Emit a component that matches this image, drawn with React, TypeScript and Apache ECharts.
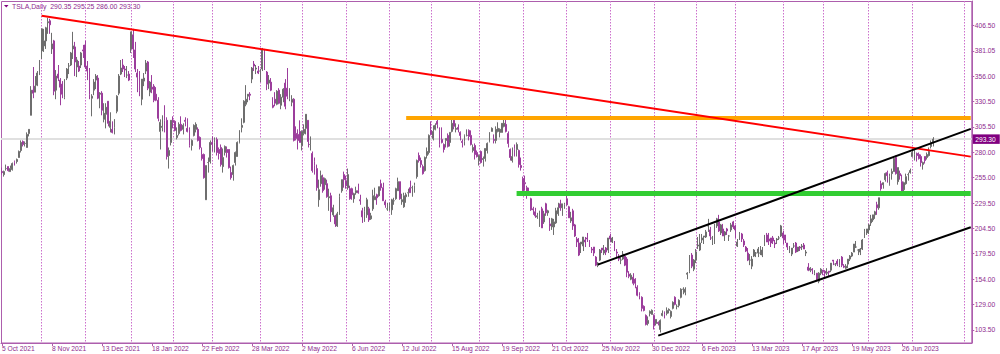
import React, { useEffect, useRef } from "react";
import * as echarts from "echarts";

// ---------- data ----------
const FIRST_DAY = "2021-10-05";
const MARKET_HOLIDAYS = [
  "2021-11-25", "2021-12-24", "2022-01-17", "2022-02-21", "2022-04-15", "2022-05-30",
  "2022-06-20", "2022-07-04", "2022-09-05", "2022-11-24", "2022-12-26", "2023-01-02",
  "2023-01-16", "2023-02-20", "2023-04-07", "2023-05-29", "2023-06-19", "2023-07-04",
];
const TOTAL_SLOTS = 466; // trading days shown incl. empty space on the right
const LABEL_EVERY = 24;
const MONTHS = ["Jan", "Feb", "Mar", "Apr", "May", "Jun", "Jul", "Aug", "Sep", "Oct", "Nov", "Dec"];

const openPrices = [
  261,258,264,266,261,263,271,271,275,282,
  291,289,285,299,317,342,340,347,358,381,
  386,391,409,411,383,391,342,358,352,348,
  335,354,366,367,383,385,365,366,367,382,
  387,366,362,334,342,352,354,338,339,313,
  318,331,305,303,305,321,339,358,367,363,
  357,358,383,397,382,359,360,333,351,361,
  370,340,345,346,338,332,301,305,317,312,
  277,290,312,311,295,299,308,303,312,304,
  303,287,297,303,303,295,278,278,233,270,
  271,290,290,293,283,285,266,280,283,283,
  260,258,270,276,290,305,310,328,336,338,
  353,368,363,361,361,363,380,360,349,350,
  327,333,328,342,327,335,349,344,334,330,
  333,299,298,301,287,299,304,312,288,279,
  271,264,233,249,255,248,249,235,237,218,
  217,207,220,242,258,252,245,244,244,234,
  240,242,233,222,220,218,224,214,224,233,
  238,237,249,245,231,224,227,223,232,234,
  242,251,231,226,236,240,245,245,247,256,
  277,272,266,262,277,280,302,294,303,311,
  303,293,288,292,297,290,301,312,303,305,
  300,291,291,297,302,297,282,287,280,272,
  281,273,274,282,291,301,293,292,301,300,
  300,306,308,299,283,272,284,283,282,267,
  254,250,245,239,234,224,221,216,208,224,
  211,229,220,209,206,206,210,219,229,225,
  226,234,226,212,222,208,194,190,189,187,
  193,195,192,184,186,176,168,173,185,180,
  185,183,197,191,190,181,176,173,174,177,
  174,159,154,156,154,146,140,136,127,118,
  110,120,119,118,110,111,104,118,121,120,
  123,117,125,136,127,128,136,144,141,159,
  162,178,164,173,187,183,193,196,196,207,
  203,195,192,207,211,200,204,198,204,197,
  203,211,207,187,194,199,192,186,180,173,
  167,177,180,180,180,178,188,198,194,195,
  195,190,193,195,197,200,198,190,184,179,
  187,190,182,186,186,188,180,166,163,164,
  160,160,152,160,163,162,160,162,163,173,
  169,172,168,176,167,165,169,174,177,181,
  186,183,181,184,200,200,203,210,213,218,
  228,225,249,248,253,260,248,259,261,275,
  251,259,251,243,249,258,260,276,278,279,
  278,276,268,276,275,277,286,290.35,
];
const highPrices = [
  265,262,268,266,267,270,272,274,282,292,
  292,291,300,303,346,365,356,361,372,403,
  403,405,414,413,399,392,362,367,354,351,
  353,364,369,380,400,390,375,371,380,387,
  391,371,364,338,353,358,357,340,341,329,
  329,331,320,311,313,337,358,372,373,366,
  366,361,400,403,390,363,361,353,359,372,
  371,351,357,348,345,335,313,317,327,315,
  285,312,316,312,305,310,316,309,315,314,
  305,293,308,310,305,296,285,279,267,275,
  292,296,295,295,285,288,284,287,286,283,
  266,268,281,291,302,314,332,347,338,340,
  365,371,367,366,363,384,383,361,357,354,
  335,340,342,344,338,344,353,364,344,337,
  334,306,303,312,302,308,318,312,296,281,
  275,268,253,262,258,255,253,244,240,228,
  218,221,239,253,261,257,264,247,245,240,
  246,249,238,225,226,235,226,220,243,245,
  239,246,253,250,233,230,230,234,235,245,
  255,251,239,240,240,244,252,247,250,273,
  280,275,268,276,285,298,311,307,309,313,
  305,305,289,294,299,300,313,315,309,308,
  301,293,298,303,303,302,288,289,282,278,
  282,276,284,290,300,305,298,306,310,304,
  309,313,314,301,284,285,288,290,283,275,
  256,257,247,245,235,226,225,220,222,226,
  222,230,223,215,215,214,225,230,233,229,
  230,238,227,221,224,209,196,195,191,196,
  196,200,193,186,186,177,171,184,185,188,
  186,195,199,196,192,184,179,176,182,178,
  176,162,160,160,155,148,141,137,128,119,
  117,123,124,119,114,112,114,123,122,126,
  125,123,132,137,129,134,145,146,146,161,
  178,180,174,184,196,199,199,197,203,214,
  206,197,209,215,218,209,209,202,205,198,
  210,212,208,194,201,200,194,187,185,179,
  177,184,181,186,187,186,198,200,200,195,
  197,193,195,197,208,202,198,190,187,185,
  190,191,186,187,189,190,183,170,166,165,
  163,160,161,165,163,163,165,162,170,173,
  170,174,174,177,169,169,174,178,181,189,
  192,184,185,194,204,204,209,218,218,222,
  231,235,252,250,260,262,259,264,275,277,
  265,262,258,251,259,260,264,284,284,280,
  280,278,271,276,280,285,292,295.25,
];
const lowPrices = [
  258,256,262,261,261,262,267,269,275,280,
  286,286,285,296,317,334,340,346,357,373,
  380,383,398,398,378,337,333,351,327,334,
  333,352,358,366,373,356,355,360,364,374,
  363,352,333,316,337,343,333,324,317,310,
  304,306,300,299,298,319,337,357,360,355,
  354,351,379,374,360,340,336,327,346,358,
  342,336,339,330,331,311,283,301,300,273,
  264,287,304,301,293,297,301,298,306,300,
  285,282,296,300,291,283,272,254,233,260,
  269,281,280,277,273,266,260,277,275,264,
  253,252,267,276,289,300,309,326,330,332,
  349,361,358,358,350,361,362,342,343,341,
  324,326,327,328,323,330,323,333,331,326,
  291,292,283,290,282,297,298,285,282,260,
  258,242,226,246,240,243,235,222,211,216,
  206,206,218,240,245,244,243,233,233,230,
  238,239,228,210,211,215,211,213,222,233,
  228,236,242,232,225,222,222,218,228,233,
  242,233,228,225,230,236,240,236,240,254,
  270,265,258,261,274,278,297,292,302,304,
  285,289,280,285,285,286,300,303,300,300,
  292,285,287,296,292,287,280,273,275,267,
  269,266,271,279,290,301,289,289,300,295,
  300,305,300,285,272,270,276,276,265,262,
  241,242,234,237,222,218,215,214,206,205,
  209,217,217,202,203,198,209,217,222,217,
  224,227,215,210,203,196,186,177,180,182,
  186,191,186,180,177,167,166,172,180,178,
  178,180,191,190,182,175,172,169,173,167,
  156,155,153,148,145,137,134,122,122,108,
  108,117,119,104,108,108,101,117,115,118,
  120,115,124,128,124,126,135,139,138,154,
  160,165,162,170,184,182,190,189,195,201,
  193,188,189,205,201,198,197,192,198,192,
  201,204,195,186,193,191,186,181,172,168,
  164,176,176,176,178,176,187,191,188,186,
  189,185,189,193,196,189,190,183,180,177,
  185,180,181,182,183,184,177,162,161,159,
  158,152,150,158,158,156,158,157,161,168,
  167,167,166,166,165,164,165,172,176,181,
  185,178,178,183,195,198,199,207,211,214,
  218,223,242,244,251,250,247,253,261,258,
  248,253,240,241,248,252,259,276,272,271,
  273,266,263,269,273,276,284,286.00,
];
const closePrices = [
  260,261,264,262,264,269,270,273,281,290,
  288,289,298,303,342,339,346,359,371,403,
  391,404,410,407,388,341,356,354,345,338,
  351,363,366,379,386,370,372,361,379,381,
  365,361,338,336,350,356,334,339,322,319,
  325,309,311,300,313,336,356,364,363,362,
  357,352,400,383,363,355,342,353,354,369,
  344,350,343,332,332,314,310,306,312,276,
  282,312,310,302,297,308,302,307,311,301,
  287,292,307,308,292,285,274,255,267,270,
  290,288,293,280,279,268,275,286,280,265,
  255,267,280,290,302,307,331,333,338,337,
  364,366,364,359,361,382,364,348,352,342,
  325,329,341,329,335,343,326,336,335,333,
  292,294,292,290,301,303,318,291,288,262,
  267,245,243,257,242,254,236,236,221,225,
  209,219,236,253,253,247,258,234,238,239,
  242,240,232,216,221,233,213,217,237,236,
  235,246,245,232,228,224,227,233,232,244,
  251,234,233,237,238,240,240,245,247,272,
  272,268,259,275,281,297,298,301,307,308,
  288,290,283,294,286,300,309,306,304,303,
  297,290,297,297,296,288,285,278,276,277,
  270,274,284,289,300,304,292,303,304,303,
  309,309,301,289,275,276,283,288,268,265,
  242,249,241,238,223,223,217,217,222,205,
  219,220,222,207,214,211,222,225,225,229,
  228,228,215,215,207,197,191,178,191,196,
  191,194,187,183,180,168,170,183,183,183,
  181,195,194,195,182,180,174,173,179,168,
  161,157,158,150,150,138,138,125,123,109,
  113,122,123,108,114,110,113,120,119,123,
  124,122,131,129,127,133,144,144,144,160,
  178,167,173,181,188,190,195,197,201,207,
  197,195,209,214,202,208,197,201,202,197,
  208,206,203,191,198,194,188,182,173,173,
  174,183,180,184,180,183,198,191,192,190,
  192,189,194,195,207,195,193,186,185,185,
  187,181,186,185,187,184,181,163,165,163,
  161,154,160,164,162,160,161,161,170,172,
  169,169,172,168,166,167,174,177,180,189,
  186,183,184,193,201,204,208,214,218,221,
  225,235,244,250,259,257,256,261,274,259,
  265,257,241,250,256,258,262,280,282,277,
  274,270,270,272,278,281,290,293.30,
];

const yTickValues = [406.5, 381.05, 356.0, 330.5, 305.5, 280.0, 255.0, 229.5, 204.5, 179.5, 154.0, 129.0, 103.5];
const lastPrice = 293.3;
const chartTitle = "TSLA,Daily  290.35 295.25 286.00 293.30";

// drawn objects: [bar index, price]
const redTrend = [[19, 416.0], [465, 275.9]];
const orangeLevel = [[194, 314.6], [465, 314.6]];
const greenLevel = [[247, 239.7], [465, 239.7]];
const channelUpper = [[286, 168.5], [465, 303.5]];
const channelLower = [[315, 97.9], [465, 205.7]];

// ---------- layout / style ----------
const BAR = 50 / 24;
const GRID_LEFT = 2 - BAR / 2;
const Y_MIN = 90.56;
const Y_MAX = 430.66;
const FRAME = "#ad5ead";
const TEXT = "#8e2a8e";
const GRIDLINE = "#cc70cc";
const FONT = "'Liberation Sans', Arial, sans-serif";
const FS = 6.7;

function buildTradingDays(first: string, count: number): Date[] {
  const out: Date[] = [];
  const d = new Date(first + "T00:00:00Z");
  while (out.length < count) {
    const dow = d.getUTCDay();
    const iso = d.toISOString().slice(0, 10);
    if (dow !== 0 && dow !== 6 && !MARKET_HOLIDAYS.includes(iso)) out.push(new Date(d.getTime()));
    d.setUTCDate(d.getUTCDate() + 1);
  }
  return out;
}

export default function App() {
  const ref = useRef<HTMLDivElement>(null);

  useEffect(() => {
    if (!ref.current) return;
    const chart = echarts.init(ref.current, undefined, { renderer: "svg" });

    const days = buildTradingDays(FIRST_DAY, TOTAL_SLOTS);
    const categories = days.map((d) => `${d.getUTCDate()} ${MONTHS[d.getUTCMonth()]} ${d.getUTCFullYear()}`);
    const nData = closePrices.length;
    const monthStart = new Set<number>();
    for (let i = 1; i < nData; i++) {
      if (days[i].getUTCMonth() !== days[i - 1].getUTCMonth()) monthStart.add(i);
    }
    const candles = openPrices.map((o, i) => [o, closePrices[i], lowPrices[i], highPrices[i]]);

    const seg = (pts: number[][], color: string, width: number) => [
      { coord: pts[0], lineStyle: { color, width, type: "solid" } },
      { coord: pts[1] },
    ];

    const option: any = {
      animation: false,
      backgroundColor: "#ffffff",
      textStyle: { fontFamily: FONT },
      grid: {
        left: GRID_LEFT,
        top: 1,
        width: TOTAL_SLOTS * BAR,
        height: 342,
        containLabel: false,
        outerBoundsMode: "none",
      },
      xAxis: {
        type: "category",
        data: categories,
        boundaryGap: true,
        axisLine: { show: true, lineStyle: { color: FRAME, width: 1 } },
        axisTick: {
          show: true,
          alignWithLabel: true,
          length: 3,
          interval: (i: number) => i % LABEL_EVERY === 0 && i < nData,
          lineStyle: { color: FRAME },
        },
        axisLabel: {
          interval: (i: number) => i % LABEL_EVERY === 0 && i < nData,
          align: "left",
          margin: 1.5,
          fontSize: FS,
          color: TEXT,
          fontFamily: FONT,
        },
        splitLine: {
          show: true,
          alignWithLabel: true,
          interval: (i: number) => monthStart.has(i) || i === 462,
          lineStyle: { color: GRIDLINE, width: 1, type: [1.5, 1.5] },
        },
      },
      yAxis: {
        type: "value",
        position: "right",
        min: Y_MIN,
        max: Y_MAX,
        axisLine: { show: true, lineStyle: { color: FRAME, width: 1 } },
        axisTick: { show: true, length: 2.5, customValues: yTickValues, lineStyle: { color: FRAME } },
        axisLabel: {
          customValues: yTickValues,
          formatter: (v: number) => v.toFixed(2),
          margin: 3,
          fontSize: FS,
          color: TEXT,
          fontFamily: FONT,
        },
        splitLine: { show: false },
      },
      series: [
        {
          type: "line",
          name: "bid",
          data: [],
          z: 1,
          markLine: {
            silent: true,
            z: 1,
            symbol: ["none", "none"],
            data: [
              {
                yAxis: lastPrice,
                lineStyle: { color: "#e0e0e0", width: 2, type: "solid" },
                label: {
                  show: true,
                  position: "end",
                  distance: 1,
                  formatter: lastPrice.toFixed(2),
                  color: "#ffffff",
                  backgroundColor: "#800080",
                  padding: [1.5, 4, 1, 2.5],
                  fontSize: FS,
                  fontFamily: FONT,
                },
              },
            ],
          },
        },
        {
          type: "candlestick",
          name: "TSLA",
          data: candles,
          z: 2,
          barWidth: 1.4,
          itemStyle: {
            color: "#4f4f4f",
            color0: "#7a127a",
            borderColor: "#6e6e6e",
            borderColor0: "#9c3d9c",
            borderColorDoji: "#6e6e6e",
            borderWidth: 1,
          },
          markLine: {
            silent: true,
            z: 5,
            symbol: ["none", "none"],
            label: { show: false },
            data: [
              seg(orangeLevel, "#ffa500", 4),
              seg(greenLevel, "#32cd32", 5),
              seg(redTrend, "#ff0000", 2),
              seg(channelUpper, "#000000", 2),
              seg(channelLower, "#000000", 2),
            ],
          },
        },
      ],
      graphic: [
        {
          type: "rect",
          silent: true,
          z: -1,
          shape: { x: 1.5, y: 1.5, width: 970.3, height: 341.5 },
          style: { fill: "none", stroke: FRAME, lineWidth: 1 },
        },
        {
          type: "polygon",
          silent: true,
          shape: { points: [[4, 5], [8.5, 5], [6.25, 7.6]] },
          style: { fill: "#800080" },
        },
        {
          type: "text",
          silent: true,
          x: 12,
          y: 2.5,
          style: { text: chartTitle, fontSize: 6.9, fill: TEXT, fontFamily: FONT },
        },
      ],
    };

    chart.setOption(option);
    return () => chart.dispose();
  }, []);

  return (
    <div
      ref={ref}
      style={{ position: "fixed", left: 0, top: 0, width: 1000, height: 354, background: "#fff" }}
    />
  );
}
